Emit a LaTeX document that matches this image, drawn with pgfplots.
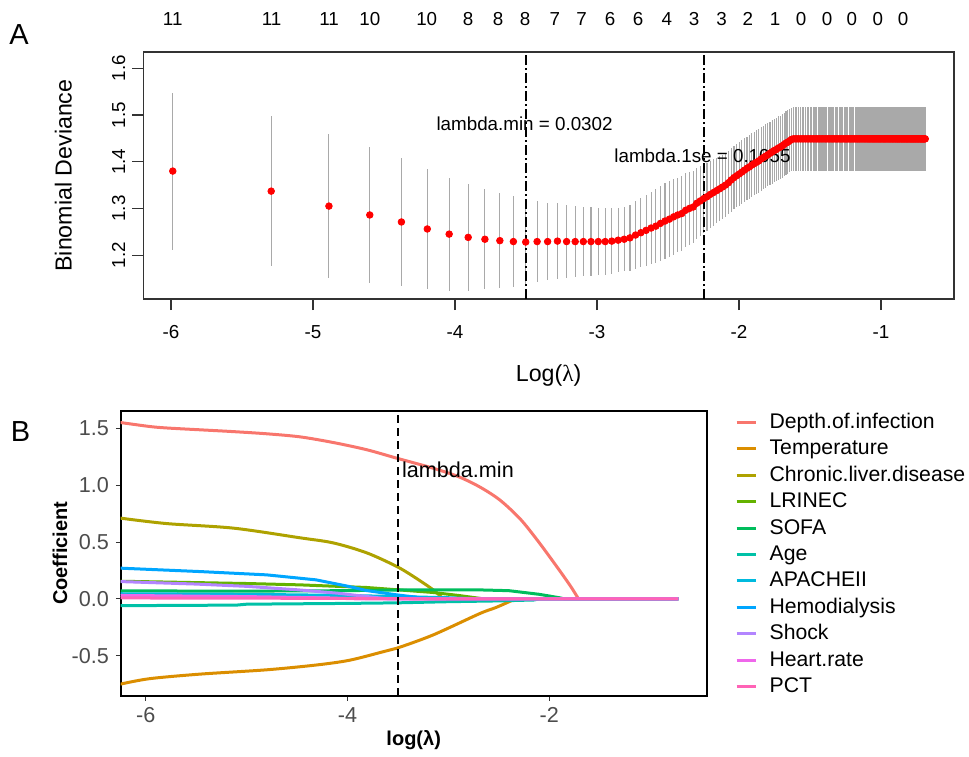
\documentclass[border=0pt]{standalone}
\usepackage{fontspec}
\setmainfont{Liberation Sans}
\newfontfamily\serifgr{Liberation Serif}
\usepackage{pgfplots}
\usepackage{pgfplotstable}
\pgfplotsset{compat=1.18}
\pgfplotsset{/pgf/number format/assume math mode=true}

\definecolor{c1}{HTML}{F8766D}
\definecolor{c2}{HTML}{DB8E00}
\definecolor{c3}{HTML}{AEA200}
\definecolor{c4}{HTML}{64B200}
\definecolor{c5}{HTML}{00BD5C}
\definecolor{c6}{HTML}{00C1A7}
\definecolor{c7}{HTML}{00BADE}
\definecolor{c8}{HTML}{00A6FF}
\definecolor{c9}{HTML}{B385FF}
\definecolor{c10}{HTML}{EF67EB}
\definecolor{c11}{HTML}{FF63B6}
\definecolor{dgray}{HTML}{A9A9A9}
\definecolor{rred}{HTML}{FF0000}

\newcommand\fTick{\fontsize{9.4}{11}\selectfont}
\newcommand\fLab{\fontsize{11.6}{13}\selectfont}
\newcommand\fB{\fontsize{10.8}{13}\selectfont}
\newcommand\fLeg{\fontsize{10.6}{13}\selectfont}

% cross-validation curve: lambda, mean deviance, standard error
\pgfplotstableread{
lam cvm se
0.00251 1.380 0.168
0.00502 1.337 0.161
0.00754 1.305 0.154
0.01005 1.286 0.146
0.01256 1.271 0.138
0.01507 1.256 0.129
0.01758 1.245 0.121
0.02010 1.238 0.114
0.02261 1.234 0.107
0.02512 1.231 0.102
0.02763 1.229 0.097
0.03014 1.228 0.093
0.03266 1.229 0.086
0.03517 1.229 0.083
0.03768 1.230 0.081
0.04019 1.229 0.078
0.04270 1.229 0.076
0.04522 1.229 0.074
0.04773 1.229 0.073
0.05024 1.229 0.072
0.05275 1.229 0.071
0.05526 1.230 0.070
0.05778 1.232 0.069
0.06029 1.234 0.069
0.06280 1.237 0.070
0.06531 1.243 0.072
0.06782 1.248 0.074
0.07034 1.253 0.076
0.07285 1.258 0.078
0.07536 1.262 0.079
0.07787 1.268 0.080
0.08038 1.273 0.081
0.08290 1.277 0.081
0.08541 1.282 0.081
0.08792 1.286 0.080
0.09043 1.289 0.080
0.09294 1.296 0.079
0.09546 1.300 0.078
0.09797 1.303 0.077
0.10048 1.311 0.076
0.10299 1.316 0.075
0.10550 1.321 0.074
0.10802 1.325 0.073
0.11053 1.330 0.072
0.11304 1.334 0.071
0.11555 1.338 0.070
0.11806 1.342 0.070
0.12058 1.346 0.069
0.12309 1.350 0.069
0.12560 1.355 0.068
0.12811 1.361 0.068
0.13062 1.366 0.068
0.13314 1.370 0.068
0.13565 1.374 0.068
0.13816 1.378 0.068
0.14067 1.382 0.068
0.14318 1.386 0.068
0.14570 1.389 0.068
0.14821 1.393 0.068
0.15072 1.396 0.068
0.15323 1.399 0.068
0.15574 1.402 0.068
0.15826 1.406 0.068
0.16077 1.409 0.068
0.16328 1.412 0.068
0.16579 1.415 0.068
0.16830 1.418 0.068
0.17082 1.421 0.068
0.17333 1.424 0.068
0.17584 1.426 0.068
0.17835 1.429 0.068
0.18086 1.431 0.068
0.18338 1.434 0.068
0.18589 1.437 0.068
0.18840 1.440 0.068
0.19091 1.442 0.068
0.19342 1.445 0.068
0.19594 1.448 0.068
0.19845 1.449 0.068
0.20096 1.449 0.068
0.20347 1.449 0.068
0.20598 1.449 0.068
0.20850 1.449 0.068
0.21101 1.449 0.068
0.21352 1.449 0.068
0.21603 1.449 0.068
0.21854 1.449 0.068
0.22106 1.449 0.068
0.22357 1.449 0.068
0.22608 1.449 0.068
0.22859 1.449 0.068
0.23110 1.449 0.068
0.23362 1.449 0.068
0.23613 1.449 0.068
0.23864 1.449 0.068
0.24115 1.449 0.068
0.24366 1.449 0.068
0.24618 1.449 0.068
0.24869 1.449 0.068
0.25120 1.449 0.068
0.25371 1.449 0.068
0.25622 1.449 0.068
0.25874 1.449 0.068
0.26125 1.449 0.068
0.26376 1.449 0.068
0.26627 1.449 0.068
0.26878 1.449 0.068
0.27130 1.449 0.068
0.27381 1.449 0.068
0.27632 1.449 0.068
0.27883 1.449 0.068
0.28134 1.449 0.068
0.28386 1.449 0.068
0.28637 1.449 0.068
0.28888 1.449 0.068
0.29139 1.449 0.068
0.29390 1.449 0.068
0.29642 1.449 0.068
0.29893 1.449 0.068
0.30144 1.449 0.068
0.30395 1.449 0.068
0.30646 1.449 0.068
0.30898 1.449 0.068
0.31149 1.449 0.068
0.31400 1.449 0.068
0.31651 1.449 0.068
0.31902 1.449 0.068
0.32154 1.449 0.068
0.32405 1.449 0.068
0.32656 1.449 0.068
0.32907 1.449 0.068
0.33158 1.449 0.068
0.33410 1.449 0.068
0.33661 1.449 0.068
0.33912 1.449 0.068
0.34163 1.449 0.068
0.34414 1.449 0.068
0.34666 1.449 0.068
0.34917 1.449 0.068
0.35168 1.449 0.068
0.35419 1.449 0.068
0.35670 1.449 0.068
0.35922 1.449 0.068
0.36173 1.449 0.068
0.36424 1.449 0.068
0.36675 1.449 0.068
0.36926 1.449 0.068
0.37178 1.449 0.068
0.37429 1.449 0.068
0.37680 1.449 0.068
0.37931 1.449 0.068
0.38182 1.449 0.068
0.38434 1.449 0.068
0.38685 1.449 0.068
0.38936 1.449 0.068
0.39187 1.449 0.068
0.39438 1.449 0.068
0.39690 1.449 0.068
0.39941 1.449 0.068
0.40192 1.449 0.068
0.40443 1.449 0.068
0.40694 1.449 0.068
0.40946 1.449 0.068
0.41197 1.449 0.068
0.41448 1.449 0.068
0.41699 1.449 0.068
0.41950 1.449 0.068
0.42202 1.449 0.068
0.42453 1.449 0.068
0.42704 1.449 0.068
0.42955 1.449 0.068
0.43206 1.449 0.068
0.43458 1.449 0.068
0.43709 1.449 0.068
0.43960 1.449 0.068
0.44211 1.449 0.068
0.44462 1.449 0.068
0.44714 1.449 0.068
0.44965 1.449 0.068
0.45216 1.449 0.068
0.45467 1.449 0.068
0.45718 1.449 0.068
0.45970 1.449 0.068
0.46221 1.449 0.068
0.46472 1.449 0.068
0.46723 1.449 0.068
0.46974 1.449 0.068
0.47226 1.449 0.068
0.47477 1.449 0.068
0.47728 1.449 0.068
0.47979 1.449 0.068
0.48230 1.449 0.068
0.48482 1.449 0.068
0.48733 1.449 0.068
0.48984 1.449 0.068
0.49235 1.449 0.068
0.49486 1.449 0.068
0.49738 1.449 0.068
0.49989 1.449 0.068
0.50240 1.449 0.068
}\cvtab

\begin{document}
\begin{tikzpicture}
\path[use as bounding box] (0,0) rectangle (484.5pt,-378pt);

\node[font=\fontsize{14.5}{16}\selectfont] at (9.5pt,-17.5pt) {A};
\node[font=\fontsize{14.5}{16}\selectfont] at (10.25pt,-216pt) {B};

% ---- panel A: cross-validation curve
\begin{axis}[
  at={(71.65pt,-149.5pt)}, anchor=south west,
  scale only axis, width=405.35pt, height=123.5pt,
  xmin=-6.195, xmax=-0.486, ymin=1.106, ymax=1.635,
  xtick={-6,-5,-4,-3,-2,-1},
  ytick={1.2,1.3,1.4,1.5,1.6},
  tick pos=left, tick align=outside, major tick length=5.5pt,
  axis line style={black!80, line width=0.6pt},
  tick style={black!80, line width=0.6pt},
  ticklabel style={font=\fTick},
  yticklabel style={rotate=90, anchor=south, /pgf/number format/.cd, fixed, precision=1, zerofill},
  xticklabel style={yshift=-4pt},
  xlabel={Log({\serifgr λ})},
  ylabel={Binomial Deviance},
  xlabel style={font=\fLab, at={(axis description cs:0.5,-0.3077)}, anchor=center},
  ylabel style={font=\fLab, at={(axis description cs:-0.0987,0.5)}, anchor=center},
  clip=false,
]
\addplot[only marks, mark=*, mark size=1.65pt, mark options={draw=rred, fill=rred},
  error bars/.cd, y dir=both, y explicit, error mark=none,
  error bar style={draw=dgray, line width=0.55pt}]
  table[x expr={ln(\thisrow{lam})}, y=cvm, y error=se] {\cvtab};
\addplot[black, line width=0.9pt, dash pattern=on 5pt off 1.5pt on 1pt off 1.5pt]
  coordinates {(-3.4999,1.106) (-3.4999,1.635)};
\addplot[black, line width=0.9pt, dash pattern=on 5pt off 1.5pt on 1pt off 1.5pt]
  coordinates {(-2.2490,1.106) (-2.2490,1.635)};
\node[font=\fTick, inner sep=0pt] at (axis cs:-3.51,1.482) {lambda.min = 0.0302};
\node[font=\fTick, inner sep=0pt] at (axis cs:-2.257,1.412) {lambda.1se = 0.1055};
\end{axis}

% ---- panel A: number of nonzero coefficients along the top
\begin{axis}[
  at={(71.65pt,-149.5pt)}, anchor=south west,
  scale only axis, width=405.35pt, height=123.5pt,
  xmin=-6.195, xmax=-0.486, ymin=0, ymax=1,
  axis x line*=top, axis y line=none, axis line style={draw=none},
  xtick={-5.988,-5.291,-4.887,-4.599,-4.199,-3.908,-3.697,-3.507,-3.296,-3.108,-2.908,-2.711,-2.509,-2.317,-2.122,-1.937,-1.746,-1.562,-1.379,-1.206,-1.023,-0.845},
  xticklabels={11,11,11,10,10,8,8,8,7,7,6,6,4,3,3,2,1,0,0,0,0,0},
  major tick length=0pt,
  xticklabel style={font=\fTick, yshift=9.5pt},
]
\end{axis}

% ---- panel B: coefficient paths
\begin{axis}[
  at={(60.35pt,-347.85pt)}, anchor=south west,
  scale only axis, width=293pt, height=142.5pt,
  xmin=-6.248, xmax=-0.439, ymin=-0.852, ymax=1.655,
  xtick={-6,-4,-2}, ytick={-0.5,0,0.5,1,1.5},
  tick pos=left, tick align=outside, major tick length=2.4pt,
  axis line style={black, line width=1pt},
  tick style={black!80, line width=0.5pt},
  ticklabel style={font=\fB, text=black!70},
  yticklabel style={/pgf/number format/.cd, fixed, precision=1, zerofill},
  xlabel={log(λ)}, ylabel={Coefficient},
  xlabel style={font=\bfseries\fontsize{10}{12}\selectfont, at={(axis description cs:0.5,-0.1554)}, anchor=center},
  ylabel style={font=\bfseries\fontsize{10}{12}\selectfont, at={(axis description cs:-0.1036,0.5)}, anchor=center},
  legend style={at={(1.0483,1.005)}, anchor=north west, draw=none, fill=none,
    inner sep=0pt, outer sep=0pt,
    font=\fLeg, row sep=0pt, column sep=6.3pt,
    nodes={inner sep=0pt, text height=9.6pt, text depth=3.6pt}},
  legend cell align=left,
  legend image code/.code={\draw[#1, line width=1.5pt] (0pt,0pt) -- (9.5pt,0pt);},
  every axis plot/.append style={line width=1.5pt, line join=round},
]
\addplot[c1, smooth, tension=0.5] coordinates {(-6.25,1.551) (-5.96,1.516) (-5.79,1.503) (-5.46,1.487) (-5.13,1.471) (-4.80,1.452) (-4.47,1.425) (-4.14,1.375) (-3.81,1.312) (-3.51,1.237) (-3.15,1.149) (-2.90,1.075) (-2.69,0.985) (-2.49,0.870) (-2.29,0.705) (-2.13,0.530) (-2.00,0.375) (-1.87,0.215) (-1.78,0.100) (-1.71,0)};
\addlegendentry{Depth.of.infection}
\addplot[c2, smooth, tension=0.5] coordinates {(-6.25,-0.750) (-5.96,-0.702) (-5.46,-0.662) (-4.80,-0.624) (-4.31,-0.582) (-3.98,-0.540) (-3.65,-0.466) (-3.51,-0.434) (-3.15,-0.317) (-2.69,-0.130) (-2.525,-0.075) (-2.38,-0.018) (-2.33,0)};
\addlegendentry{Temperature}
\addplot[c3, smooth, tension=0.5] coordinates {(-6.25,0.710) (-5.79,0.662) (-5.13,0.622) (-4.47,0.537) (-4.14,0.492) (-3.81,0.405) (-3.51,0.284) (-3.32,0.182) (-3.15,0.079) (-3.05,0)};
\addlegendentry{Chronic.liver.disease}
\addplot[c4] coordinates {(-6.25,0.155) (-5.0,0.135) (-4.47,0.123) (-3.81,0.100) (-3.15,0.056) (-2.90,0.030) (-2.65,0) (-0.72,0)};
\addlegendentry{LRINEC}
\addplot[c5] coordinates {(-6.25,0.070) (-5.0,0.068) (-4.0,0.072) (-3.5,0.078) (-2.7,0.079) (-2.4,0.072) (-2.1,0.040) (-1.9,0.010) (-1.85,0) (-0.72,0)};
\addlegendentry{SOFA}
\addplot[c6] coordinates {(-6.25,-0.060) (-5.1,-0.055) (-5.0,-0.047) (-4.0,-0.040) (-3.5,-0.035) (-3.0,-0.025) (-2.5,-0.018) (-2.15,-0.010) (-2.10,0) (-0.72,0)};
\addlegendentry{Age}
\addplot[c7] coordinates {(-6.25,0.045) (-5.0,0.040) (-4.0,0.030) (-3.5,0.020) (-3.0,0.010) (-2.7,0) (-0.72,0)};
\addlegendentry{APACHEII}
\addplot[c8] coordinates {(-6.25,0.270) (-5.46,0.240) (-4.80,0.211) (-4.31,0.167) (-3.98,0.108) (-3.81,0.073) (-3.51,0.035) (-3.32,0.015) (-3.20,0) (-0.72,0)};
\addlegendentry{Hemodialysis}
\addplot[c9] coordinates {(-6.25,0.152) (-5.5,0.130) (-5.0,0.110) (-4.5,0.080) (-4.1,0.050) (-3.8,0.020) (-3.6,0) (-0.72,0)};
\addlegendentry{Shock}
\addplot[c10] coordinates {(-6.25,0.030) (-5.0,0.020) (-4.2,0.008) (-3.9,0) (-0.72,0)};
\addlegendentry{Heart.rate}
\addplot[c11] coordinates {(-6.25,0.008) (-5.0,0.006) (-4.0,0.004) (-3.2,0) (-0.72,0)};
\addlegendentry{PCT}
\addplot[forget plot, black, line width=1.1pt, dash pattern=on 4pt off 2.5pt]
  coordinates {(-3.4999,-0.852) (-3.4999,1.655)};
\node[font=\fB, anchor=west, inner sep=0pt] at (axis cs:-3.462,1.135) {lambda.min};
\end{axis}
\end{tikzpicture}
\end{document}
